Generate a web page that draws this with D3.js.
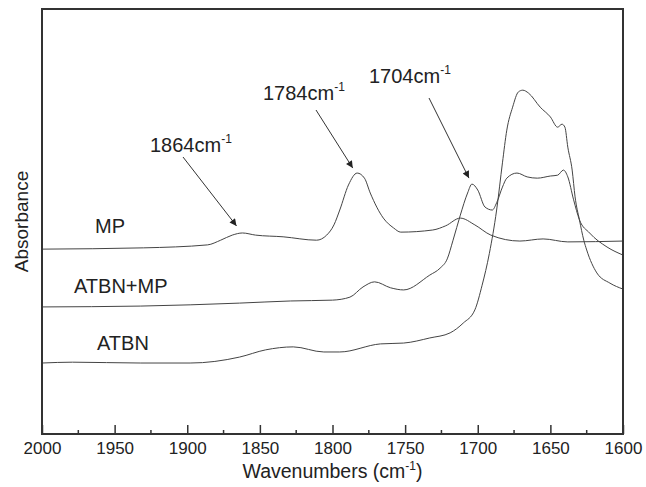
<!DOCTYPE html>
<html>
<head>
<meta charset="utf-8">
<script src="https://cdn.jsdelivr.net/npm/d3@7"></script>
<style>
    body { margin: 0; background: #fff; }
    text { font-family: "Liberation Sans", Arial, sans-serif; fill: #222; }
</style>
</head>
<body>
<script>
//spectra: wavenumber (cm-1) and absorbance (arbitrary units)
var mpWave   = [2000, 1930, 1886, 1877, 1869, 1862, 1853, 1834, 1811, 1804, 1799, 1795, 1789, 1783, 1778, 1774, 1765, 1758, 1753, 1731, 1722, 1712, 1702, 1691, 1671, 1655, 1638, 1600];
var mpAbs    = [43.5, 43.8, 44.5, 45.6, 46.8, 47.3, 46.8, 46.4, 45.6, 46.8, 49.2, 52.7, 58.6, 61.4, 60.2, 56.7, 50.8, 48.5, 47.5, 48.0, 49.0, 50.8, 49.2, 46.8, 45.4, 45.9, 45.2, 45.4];

var blendWave = [2000, 1932, 1864, 1829, 1800, 1788, 1779, 1771, 1760, 1751, 1733, 1726, 1721, 1717, 1712, 1707, 1704, 1700, 1695, 1690, 1687, 1683, 1680, 1673, 1666, 1659, 1650, 1645, 1641, 1638, 1634, 1630, 1623, 1611, 1600];
var blendAbs  = [29.9, 30.1, 30.8, 31.3, 31.5, 32.2, 34.6, 35.8, 34.4, 33.9, 37.4, 39.0, 41.2, 45.6, 51.5, 56.7, 58.8, 57.4, 53.4, 52.7, 54.4, 58.1, 60.2, 61.4, 60.5, 60.2, 60.7, 60.9, 62.1, 60.5, 55.1, 50.4, 47.3, 44.0, 42.1];

var atbnWave = [2000, 1979, 1932, 1898, 1864, 1846, 1827, 1806, 1795, 1767, 1751, 1733, 1719, 1710, 1702, 1697, 1692, 1687, 1683, 1680, 1676, 1672, 1669, 1665, 1657, 1650, 1645, 1642, 1640, 1638, 1635, 1633, 1630, 1627, 1625, 1618, 1609, 1600];
var atbnAbs  = [16.7, 16.9, 16.7, 16.7, 18.1, 19.8, 20.5, 19.3, 19.3, 21.2, 21.4, 22.6, 23.8, 26.1, 29.2, 35.0, 42.5, 52.7, 63.8, 71.5, 76.9, 80.5, 80.9, 80.2, 76.9, 74.6, 72.2, 72.9, 72.2, 67.5, 62.1, 55.8, 50.4, 45.6, 43.3, 37.9, 35.5, 34.1];

var xTicks = [2000, 1950, 1900, 1850, 1800, 1750, 1700, 1650, 1600];

//peak call-outs: label wavenumber, arrow tip on the MP or blend curve
var peakLabels = ["1864", "1784", "1704"];

window.onload = drawChart();

function drawChart(){

    var width = 646,
        height = 487;

    var margin = {top: 9, right: 23, bottom: 53, left: 42};
    var innerW = width - margin.left - margin.right,
        innerH = height - margin.top - margin.bottom;

    var svg = d3.select("body")
        .append("svg")
        .attr("width", width)
        .attr("height", height);

    var g = svg.append("g")
        .attr("transform", "translate(" + margin.left + "," + margin.top + ")");

    //reversed wavenumber axis
    var x = d3.scaleLinear()
        .domain([2000, 1600])
        .range([0, innerW]);

    var y = d3.scaleLinear()
        .domain([0, 100])
        .range([innerH, 0]);

    var line = d3.line()
        .x(function(d){ return x(d[0]); })
        .y(function(d){ return y(d[1]); })
        .curve(d3.curveMonotoneX);

    var series = [
        {name: "MP", wave: mpWave, abs: mpAbs, lx: 53, ly: 233},
        {name: "ATBN+MP", wave: blendWave, abs: blendAbs, lx: 32, ly: 293},
        {name: "ATBN", wave: atbnWave, abs: atbnAbs, lx: 55, ly: 350}
    ];

    series.forEach(function(s){
        var pts = s.wave.map(function(w, i){ return [w, s.abs[i]]; });
        g.append("path")
            .datum(pts)
            .attr("fill", "none")
            .attr("stroke", "#444")
            .attr("stroke-width", 1)
            .attr("d", line);

        svg.append("text")
            .attr("x", s.lx + margin.left)
            .attr("y", s.ly)
            .attr("font-size", 20)
            .text(s.name);
    });

    //bottom axis with inward ticks, minor every 25
    var minor = d3.range(1975, 1600, -50);
    g.selectAll(".minor")
        .data(minor)
        .enter()
        .append("line")
        .attr("x1", function(d){ return x(d); })
        .attr("x2", function(d){ return x(d); })
        .attr("y1", innerH)
        .attr("y2", innerH - 4)
        .attr("stroke", "#333")
        .attr("stroke-width", 1.5);

    var xAxis = d3.axisBottom(x)
        .tickValues(xTicks)
        .tickSizeInner(-9)
        .tickSizeOuter(0)
        .tickPadding(8)
        .tickFormat(d3.format("d"));

    var ax = g.append("g")
        .attr("transform", "translate(0," + innerH + ")")
        .call(xAxis);
    ax.select(".domain").remove();
    ax.selectAll(".tick line").attr("stroke", "#333").attr("stroke-width", 1.5);
    ax.selectAll(".tick text")
        .attr("font-size", 17)
        .attr("font-family", "Liberation Sans, Arial, sans-serif")
        .attr("fill", "#222");

    //frame
    g.append("rect")
        .attr("width", innerW)
        .attr("height", innerH)
        .attr("fill", "none")
        .attr("stroke", "#333")
        .attr("stroke-width", 2);

    //axis titles
    var xt = svg.append("text")
        .attr("x", margin.left + innerW / 2)
        .attr("y", 478)
        .attr("text-anchor", "middle")
        .attr("font-size", 19.5);
    xt.append("tspan").text("Wavenumbers (cm");
    xt.append("tspan").attr("font-size", 12).attr("dy", -8).text("-1");
    xt.append("tspan").attr("dy", 8).text(")");

    svg.append("text")
        .attr("transform", "translate(28," + (margin.top + innerH / 2) + ") rotate(-90)")
        .attr("text-anchor", "middle")
        .attr("font-size", 19)
        .text("Absorbance");

    //arrow marker
    svg.append("defs").append("marker")
        .attr("id", "head")
        .attr("viewBox", "0 0 10 10")
        .attr("refX", 10)
        .attr("refY", 5)
        .attr("markerWidth", 13)
        .attr("markerHeight", 7)
        .attr("markerUnits", "userSpaceOnUse")
        .attr("orient", "auto")
        .append("path")
        .attr("d", "M0,0L10,5L0,10Z")
        .attr("fill", "#222");

    //annotation positions: text origin, arrow start, arrow tip (pixels around the peak)
    var notes = [
        {tx: 150, ty: 152, x1: 183, y1: 157, wave: 1864, curve: [mpWave, mpAbs], off: 7},
        {tx: 263, ty: 100, x1: 316, y1: 110, wave: 1784, curve: [mpWave, mpAbs], off: 5},
        {tx: 369, ty: 83, x1: 429, y1: 98, wave: 1704, curve: [blendWave, blendAbs], off: 6}
    ];

    notes.forEach(function(n, i){
        var t = svg.append("text")
            .attr("x", n.tx)
            .attr("y", n.ty)
            .attr("font-size", 20);
        t.append("tspan").text(peakLabels[i] + "cm");
        t.append("tspan").attr("font-size", 12).attr("dy", -9).text("-1");

        var k = n.curve[0].indexOf(n.wave);
        if (k < 0) {
            //nearest sample
            k = d3.minIndex(n.curve[0], function(w){ return Math.abs(w - n.wave); });
        }
        var tipX = x(n.wave) + margin.left - 3,
            tipY = y(n.curve[1][k]) + margin.top - n.off;

        svg.append("line")
            .attr("x1", n.x1)
            .attr("y1", n.y1)
            .attr("x2", tipX)
            .attr("y2", tipY)
            .attr("stroke", "#333")
            .attr("stroke-width", 1)
            .attr("marker-end", "url(#head)");
    });
};
</script>
</body>
</html>
